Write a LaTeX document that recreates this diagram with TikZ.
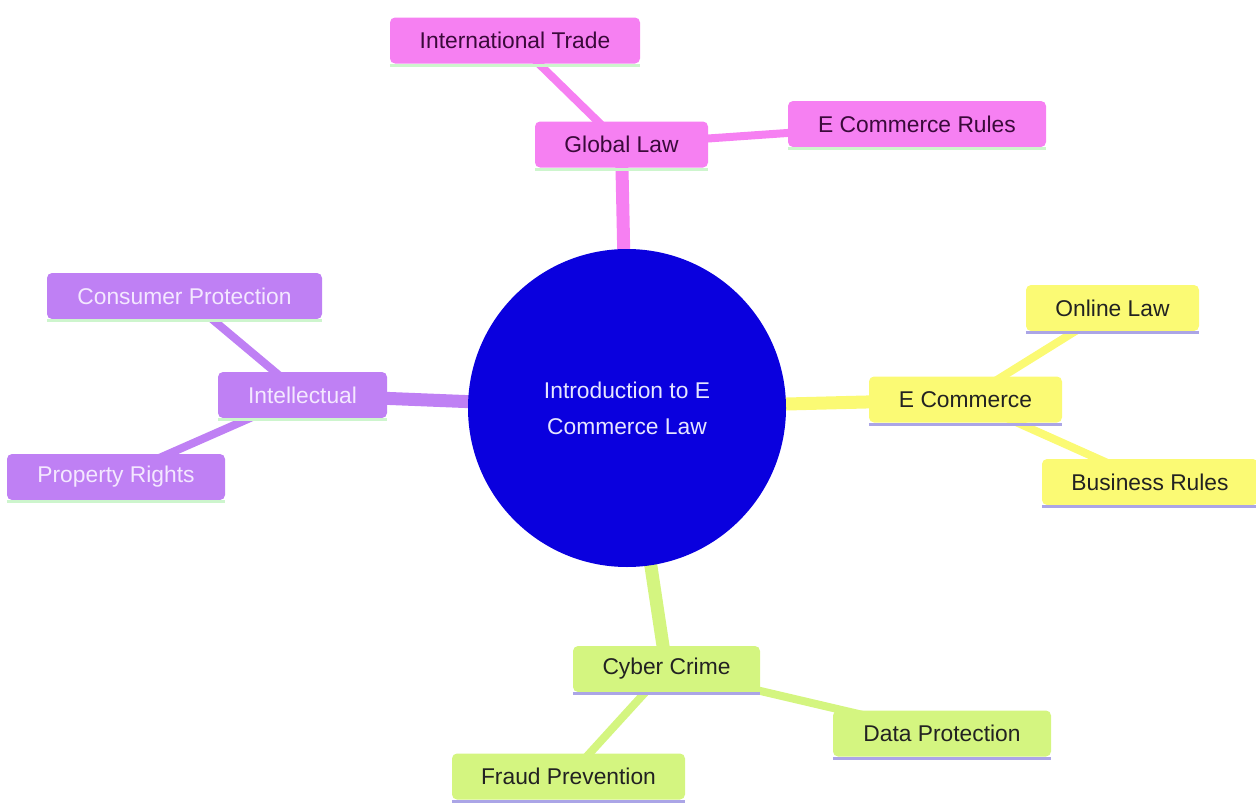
\documentclass[tikz,border=0pt]{standalone}
\usepackage{fontspec}
\setmainfont{Liberation Sans}
\usetikzlibrary{backgrounds}
\definecolor{pinkc}{HTML}{F680F2}
\definecolor{purpc}{HTML}{BF80F4}
\definecolor{yellc}{HTML}{FBFA74}
\definecolor{greenc}{HTML}{D4F580}
\definecolor{bluec}{HTML}{0A00DE}
\definecolor{mintline}{HTML}{CDF5CD}
\definecolor{lavline}{HTML}{ABA5E6}
\definecolor{darkpink}{HTML}{3A0A3A}
\definecolor{lightpurp}{HTML}{F4E8FF}
\definecolor{darktext}{HTML}{222222}
\definecolor{roottext}{HTML}{E6E6FF}
\begin{document}
\begin{tikzpicture}[x=1pt,y=-1pt,
  box/.style={rounded corners=5pt, minimum height=46pt, inner sep=0pt,
    font=\fontsize{22.8}{27}\selectfont},
  pinkbox/.style={box, fill=pinkc, text=darkpink},
  purpbox/.style={box, fill=purpc, text=lightpurp},
  yellbox/.style={box, fill=yellc, text=darktext},
  greenbox/.style={box, fill=greenc, text=darktext},
  mainline/.style={line width=13pt},
  subline/.style={line width=8pt},
  bline/.style={line width=3pt}]
\useasboundingbox (0,0) rectangle (1256,803);

% root
\node[circle, fill=bluec, minimum size=318pt, inner sep=0pt, align=center,
  text=roottext, font=\fontsize{22.8}{36}\selectfont] (root) at (627,408)
  {Introduction to E\\Commerce Law};

% Global Law branch
\node[pinkbox, minimum width=173pt] (gl) at (621.5,144.5) {Global Law};
\node[pinkbox, minimum width=250pt] (it) at (515,40.5) {International Trade};
\node[pinkbox, minimum width=258pt] (ecr) at (917,124) {E Commerce Rules};

% Intellectual branch
\node[purpbox, minimum width=169pt] (ip) at (302.5,395) {Intellectual};
\node[purpbox, minimum width=275pt] (cp) at (184.5,296) {Consumer Protection};
\node[purpbox, minimum width=218pt] (pr) at (116,477) {Property Rights};

% E Commerce branch
\node[yellbox, minimum width=193pt] (ec) at (965.5,399.5) {E Commerce};
\node[yellbox, minimum width=173pt] (ol) at (1112.5,308) {Online Law};
\node[yellbox, minimum width=216pt] (br) at (1150,482) {Business Rules};

% Cyber Crime branch
\node[greenbox, minimum width=187pt] (cc) at (666.5,669) {Cyber Crime};
\node[greenbox, minimum width=233pt] (fp) at (568.5,776.5) {Fraud Prevention};
\node[greenbox, minimum width=218pt] (dp) at (942,733.5) {Data Protection};

% bottom borders
\foreach \n in {gl,it,ecr,ip,cp,pr}
  \draw[bline, mintline] ([yshift=-1.5pt]\n.south west) -- ([yshift=-1.5pt]\n.south east);
\foreach \n in {ec,ol,br,cc,fp,dp}
  \draw[bline, lavline] ([yshift=-1.5pt]\n.south west) -- ([yshift=-1.5pt]\n.south east);

% connectors
\begin{pgfonlayer}{background}
  \draw[mainline, pinkc] (root.center) -- (gl.center);
  \draw[mainline, purpc] (root.center) -- (ip.center);
  \draw[mainline, yellc] (root.center) -- (ec.center);
  \draw[mainline, greenc] (root.center) -- (cc.center);
  \draw[subline, pinkc] (gl.center) -- (it.center);
  \draw[subline, pinkc] (gl.center) -- (ecr.center);
  \draw[subline, purpc] (ip.center) -- (cp.center);
  \draw[subline, purpc] (ip.center) -- (pr.center);
  \draw[subline, yellc] (ec.center) -- (ol.center);
  \draw[subline, yellc] (ec.center) -- (br.center);
  \draw[subline, greenc] (cc.center) -- (fp.center);
  \draw[subline, greenc] (cc.center) -- (dp.center);
\end{pgfonlayer}
\end{tikzpicture}
\end{document}
